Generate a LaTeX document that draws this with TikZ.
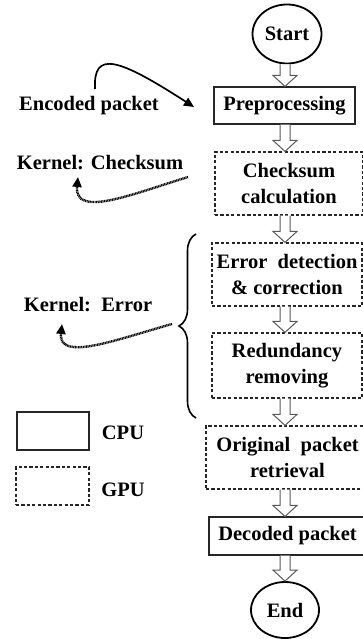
\documentclass[tikz,border=0pt]{standalone}
\usepackage{fontspec}
\setmainfont{Liberation Serif}
\usetikzlibrary{shapes.geometric,arrows.meta,decorations.pathreplacing,calc}
\tikzset{
  txt/.style={font=\fontsize{20.5}{25.5}\selectfont\bfseries, text=black, inner sep=0pt, align=center},
  cpubox/.style={txt, draw=black!85, line width=1.1pt, rectangle},
  gpubox/.style={txt, draw=black!85, line width=1.2pt, rectangle, dash pattern=on 3.2pt off 2.2pt},
  term/.style={txt, draw=black, line width=1.8pt, ellipse, inner sep=0pt},
  harr/.style={draw=black!65, line width=1pt, fill=white},
  dotarr/.style={line width=2.4pt, dash pattern=on 1pt off 0.6pt, -{Triangle[length=10pt,width=9pt]}},
  solarr/.style={line width=1.7pt, -{Triangle[length=10pt,width=9pt]}}
}
\newcommand{\hollowarr}[2]{%
  \draw[harr] let \p1=(ax |- #1.south), \p2=(ax |- #2.north) in
   (\x1-5pt,\y1) -- (\x1-5pt,\y2+11pt) -- (\x1-12pt,\y2+11pt) -- (\x1,\y2)
   -- (\x1+12pt,\y2+11pt) -- (\x1+5pt,\y2+11pt) -- (\x1+5pt,\y1);}
\begin{document}
\begin{tikzpicture}[x=1pt,y=-1pt]
\useasboundingbox (0,0) rectangle (363,639);
\clip (0,0) rectangle (363,639);
\coordinate (ax) at (285,0);
% main flow
\node[term, minimum width=69pt, minimum height=59pt] (start) at (287,34) {Start};
\node[cpubox, minimum width=141pt, minimum height=37pt] (pre) at (284.5,105.5) {Preprocessing};
\node[gpubox, minimum width=148pt, minimum height=63pt] (chk) at (289,183.5) {Checksum\\calculation};
\node[gpubox, minimum width=150pt, minimum height=63pt] (err) at (287,274.5) {Error\ \ detection\\\&\ correction};
\node[gpubox, minimum width=150pt, minimum height=65pt] (red) at (287,365.5) {Redundancy\\removing};
\node[gpubox, minimum width=163pt, minimum height=63pt] (orig) at (287.5,457.5) {Original\ \ packet\\retrieval};
\node[cpubox, minimum width=157pt, minimum height=38pt] (dec) at (287.5,536) {Decoded packet};
\node[term, minimum width=68pt, minimum height=56pt] (end) at (285,610) {End};
\hollowarr{start}{pre}
\hollowarr{pre}{chk}
\hollowarr{chk}{err}
\hollowarr{err}{red}
\hollowarr{red}{orig}
\hollowarr{orig}{dec}
\hollowarr{dec}{end}
% left labels
\node[txt] (enc) at (89,106) {Encoded packet};
\node[txt] (kchk) at (100,163) {Kernel: Checksum};
\node[txt] (kerr) at (88,305) {Kernel:\ \ Error};
\coordinate (encA) at (95,89);
\coordinate (encB) at (194,107);
\draw[solarr] (encA) .. controls (93,50) and (118,58) .. (encB);
\coordinate (kcA) at (188,177);
\coordinate (kcB) at (78,177);
\draw[dotarr] (kcA) .. controls (130,195) and (74,218) .. (kcB);
% brace
\draw[line width=1.6pt, decorate, decoration={brace, amplitude=17pt}] (196,418) -- (196,234);
\coordinate (btip) at (172,324);
\coordinate (keB) at (62,324);
\draw[dotarr] (btip) .. controls (115,340) and (58,362) .. (keB);
% legend
\node[cpubox, minimum width=72pt, minimum height=38pt] (lcpu) at (53,431) {};
\node[gpubox, minimum width=73pt, minimum height=38pt] (lgpu) at (52.5,486) {};
\node[txt] (tcpu) at (123,433) {CPU};
\node[txt] (tgpu) at (123,490) {GPU};
\end{tikzpicture}
\end{document}
